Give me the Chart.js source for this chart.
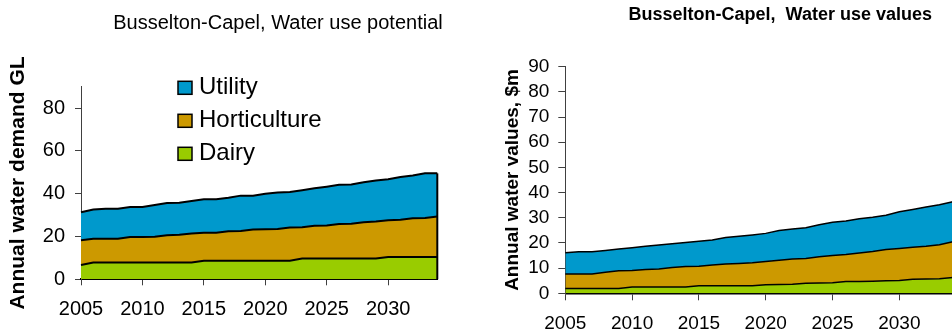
<!DOCTYPE html>
<html>
<head>
<meta charset="utf-8">
<title>Busselton-Capel water use</title>
<script src="https://cdn.jsdelivr.net/npm/chart.js@4.4.1/dist/chart.umd.min.js"></script>
<style>
  html, body { margin: 0; padding: 0; background: #fff; overflow: hidden; }
  #wrap { position: relative; width: 952px; height: 336px; overflow: hidden; }
  #potentialChart { position: absolute; left: 0; top: 0; }
  #valuesChart { position: absolute; left: 476px; top: 0; }
</style>
</head>
<body>
<div id="wrap">
  <canvas id="potentialChart" width="476" height="336"></canvas>
  <canvas id="valuesChart" width="480" height="336"></canvas>
</div>
<script>
const years = [2005, 2006, 2007, 2008, 2009, 2010, 2011, 2012, 2013, 2014,
               2015, 2016, 2017, 2018, 2019, 2020, 2021, 2022, 2023, 2024,
               2025, 2026, 2027, 2028, 2029, 2030, 2031, 2032, 2033, 2034];
const labelYears = [2005, 2010, 2015, 2020, 2025, 2030];

const seriesNames = ["Dairy", "Horticulture", "Utility"];
const seriesColors = ["#99CC00", "#CC9900", "#0099CC"];

// Water demand, GL
const dairyGL = [6.7, 7.8, 7.8, 7.8, 7.8, 7.8, 7.8, 7.8, 7.8, 7.8,
                 8.7, 8.7, 8.7, 8.7, 8.7, 8.7, 8.7, 8.7, 9.7, 9.7,
                 9.7, 9.7, 9.7, 9.7, 9.7, 10.4, 10.4, 10.4, 10.4, 10.4];
const horticultureGL = [11.6, 11.1, 11.1, 11.2, 12.0, 12.0, 12.1, 12.8, 13.0, 13.6,
                        13.0, 13.1, 13.7, 13.9, 14.6, 14.7, 14.8, 15.5, 14.6, 15.3,
                        15.4, 16.1, 16.3, 17.0, 17.3, 17.2, 17.4, 18.1, 18.3, 18.9];
const utilityGL = [13.0, 13.7, 14.1, 14.0, 14.0, 14.0, 14.8, 15.1, 15.0, 15.2,
                   15.7, 15.6, 15.7, 16.5, 15.8, 16.6, 17.1, 16.6, 17.3, 17.5,
                   18.2, 18.4, 18.3, 18.6, 19.2, 19.2, 20.0, 20.0, 20.8, 20.2];

// Water values, $m
const dairyValue = [1.9, 1.9, 1.9, 1.9, 1.9, 2.5, 2.5, 2.5, 2.5, 2.5,
                    3.0, 3.0, 3.0, 3.0, 3.0, 3.4, 3.5, 3.6, 4.0, 4.1,
                    4.2, 4.7, 4.7, 4.8, 5.0, 5.1, 5.6, 5.7, 5.8, 6.3];
const horticultureValue = [5.8, 5.8, 5.8, 6.5, 7.1, 6.6, 7.0, 7.2, 7.7, 8.1,
                           7.7, 8.2, 8.6, 8.8, 9.1, 9.2, 9.6, 10.0, 9.8, 10.4,
                           10.8, 10.7, 11.3, 11.8, 12.4, 12.7, 12.7, 13.0, 13.5, 14.2];
const utilityValue = [8.4, 8.8, 8.8, 8.6, 8.6, 9.0, 9.2, 9.5, 9.5, 9.6,
                      10.0, 10.0, 10.6, 10.9, 11.1, 11.2, 11.8, 11.9, 12.2, 12.7,
                      13.2, 13.3, 13.6, 13.6, 13.6, 14.6, 15.0, 15.6, 15.9, 15.9];

const FONT = "'Liberation Sans', Arial, sans-serif";

// Title text drawn at a fixed place above the plot
const titlePlugin = {
    id: "fixedTitle",
    afterDraw(chart, args, opts) {
        const ctx = chart.ctx;
        ctx.save();
        ctx.font = opts.font;
        ctx.fillStyle = "#000";
        ctx.textAlign = "center";
        ctx.textBaseline = "alphabetic";
        ctx.fillText(opts.text, opts.x, opts.y);
        ctx.restore();
    }
};

// Closes the stacked areas with a vertical edge at the last year
const edgePlugin = {
    id: "stackEdge",
    afterDatasetsDraw(chart, args, opts) {
        const last = chart.data.labels.length - 1;
        const topPoint = chart.getDatasetMeta(chart.data.datasets.length - 1).data[last];
        const bottom = chart.scales.y.getPixelForValue(0);
        const ctx = chart.ctx;
        ctx.save();
        ctx.strokeStyle = "#000";
        ctx.lineWidth = opts.width;
        ctx.beginPath();
        ctx.moveTo(topPoint.x, topPoint.y);
        ctx.lineTo(topPoint.x, bottom);
        ctx.stroke();
        ctx.restore();
    }
};

// Legend with the top series first, placed inside the plot
const legendPlugin = {
    id: "stackLegend",
    afterDraw(chart, args, opts) {
        if (!opts.show) return;
        const ctx = chart.ctx;
        const items = chart.data.datasets.slice().reverse();
        ctx.save();
        ctx.font = opts.font;
        ctx.textBaseline = "alphabetic";
        ctx.textAlign = "left";
        items.forEach((ds, i) => {
            const base = opts.y + i * opts.gap;
            ctx.fillStyle = ds.backgroundColor;
            ctx.fillRect(opts.x, base - 13, 14, 13);
            ctx.strokeStyle = "#000";
            ctx.lineWidth = 1.5;
            ctx.strokeRect(opts.x, base - 13, 14, 13);
            ctx.fillStyle = "#000";
            ctx.fillText(ds.label, opts.x + 21, base);
        });
        ctx.restore();
    }
};

function buildStackChart(canvasId, values, cfg) {
    const datasets = values.map((vals, i) => ({
        label: seriesNames[i],
        data: vals,
        backgroundColor: seriesColors[i],
        borderColor: "#000",
        borderWidth: cfg.lineWidth,
        fill: i === 0 ? "origin" : "-1",
        pointRadius: 0,
        tension: 0
    }));

    const ctx = document.getElementById(canvasId).getContext("2d");
    return new Chart(ctx, {
        type: "line",
        data: { labels: years.map(String), datasets: datasets },
        plugins: [titlePlugin, edgePlugin, legendPlugin],
        options: {
            responsive: false,
            animation: false,
            events: [],
            layout: { padding: cfg.padding },
            plugins: {
                legend: { display: false },
                title: { display: false },
                tooltip: { enabled: false },
                fixedTitle: cfg.title,
                stackEdge: { width: cfg.lineWidth },
                stackLegend: cfg.legend
            },
            scales: {
                x: {
                    type: "category",
                    offset: false,
                    afterBuildTicks: (scale) => {
                        scale.ticks = scale.ticks.filter(t => labelYears.includes(years[t.value]));
                    },
                    afterFit: (scale) => { scale.height = cfg.xHeight; },
                    ticks: {
                        autoSkip: false,
                        maxRotation: 0,
                        color: "#000",
                        padding: cfg.xPad,
                        font: { family: FONT, size: cfg.tickSize }
                    },
                    grid: {
                        display: true,
                        drawOnChartArea: false,
                        drawTicks: true,
                        tickLength: cfg.tickLen,
                        tickColor: "#404040"
                    },
                    border: { display: true, color: "#000", width: cfg.lineWidth }
                },
                y: {
                    stacked: true,
                    min: 0,
                    max: 90,
                    afterFit: (scale) => { scale.width = cfg.yWidth; },
                    ticks: {
                        stepSize: cfg.step,
                        includeBounds: false,
                        autoSkip: false,
                        color: "#000",
                        padding: cfg.yPad,
                        font: { family: FONT, size: cfg.tickSize }
                    },
                    grid: {
                        display: true,
                        drawOnChartArea: false,
                        drawTicks: true,
                        tickLength: cfg.tickLen,
                        tickColor: "#404040"
                    },
                    border: { display: true, color: "#404040", width: 1 },
                    title: {
                        display: true,
                        text: cfg.yTitle,
                        color: "#000",
                        padding: { top: cfg.yTitlePad, bottom: 0 },
                        font: { family: FONT, size: cfg.yTitleSize, weight: "bold" }
                    }
                }
            }
        }
    });
}

buildStackChart("potentialChart", [dairyGL, horticultureGL, utilityGL], {
    padding: { top: 86.7, right: 38.7, bottom: 0, left: 0 },
    xHeight: 56.7,
    yWidth: 81,
    step: 20,
    tickSize: 20,
    tickLen: 6,
    xPad: 12,
    yPad: 10,
    lineWidth: 2,
    yTitle: "Annual water demand GL",
    yTitleSize: 21,
    yTitlePad: 6,
    title: { text: "Busselton-Capel, Water use potential", x: 278, y: 29.3, font: "20px " + FONT },
    legend: { show: true, x: 178, y: 94.3, gap: 33, font: "24px " + FONT }
});

buildStackChart("valuesChart", [dairyValue, horticultureValue, utilityValue], {
    padding: { top: 66.7, right: 3.2, bottom: 0, left: 0 },
    xHeight: 42.7,
    yWidth: 89.3,
    step: 10,
    tickSize: 19,
    tickLen: 7,
    xPad: 12,
    yPad: 9,
    lineWidth: 1.5,
    yTitle: "Annual water values, $m",
    yTitleSize: 19,
    yTitlePad: 25.6,
    title: { text: "Busselton-Capel,  Water use values", x: 304.3, y: 20, font: "bold 18px " + FONT },
    legend: { show: false }
});
</script>
</body>
</html>
